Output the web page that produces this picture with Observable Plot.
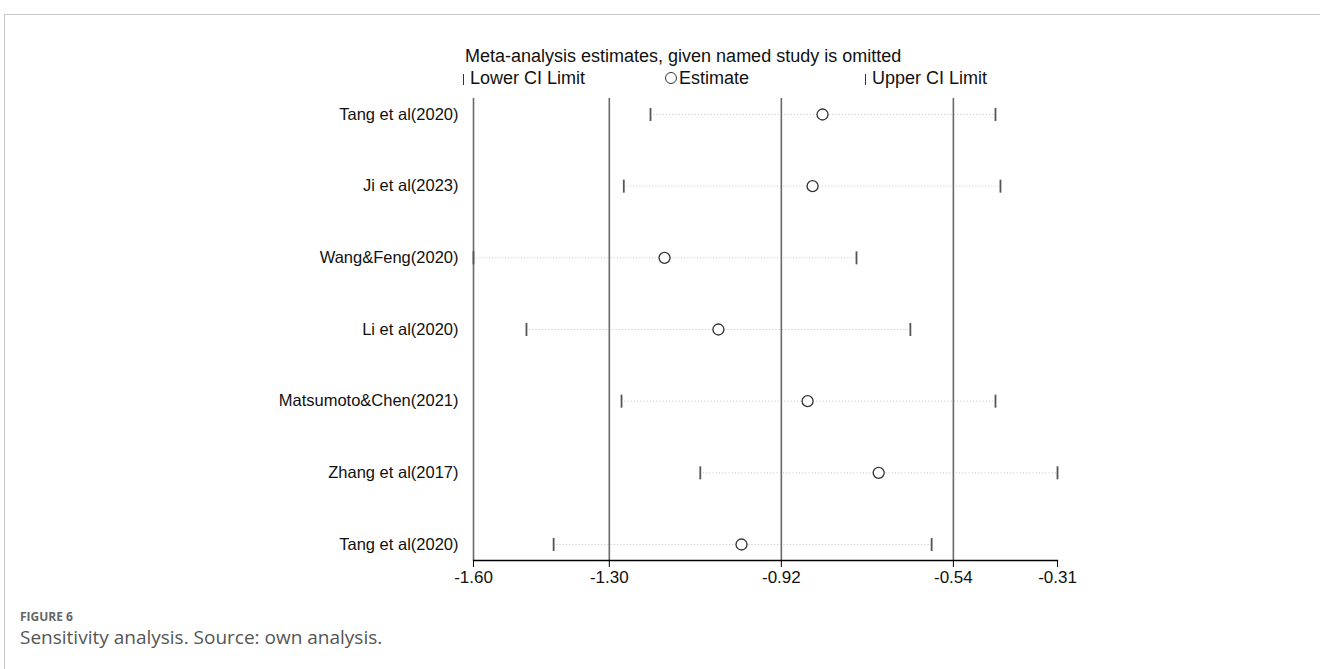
<!DOCTYPE html>
<html>
<head>
<meta charset="utf-8">
<script src="https://cdn.jsdelivr.net/npm/d3@7"></script>
<script src="https://cdn.jsdelivr.net/npm/@observablehq/plot@0.6"></script>
<style>
  html, body { margin: 0; padding: 0; background: #fff; overflow: hidden; width: 1320px; height: 669px; }
  #card { position: absolute; left: 4px; top: 14px; width: 1330px; height: 700px; border-top: 1px solid #c8c8c8; border-left: 1px solid #c8c8c8; }
  #chart { position: absolute; left: 0; top: 0; }
  .lg { position: absolute; font-family: "Liberation Sans", Arial, sans-serif; color: #111; white-space: nowrap; font-size: 18px; line-height: 20px; }
  #title { left: 465px; top: 46px; }
  #lg1 { left: 463px; top: 68px; }
  #lg2 { left: 665px; top: 68px; }
  #lg3 { left: 865px; top: 68px; }
  .bar { display: inline-block; width: 1px; height: 11px; background: #333; margin-right: 6px; position: relative; top: 1px; }
  .circ { display: inline-block; width: 10px; height: 10px; border: 1px solid #333; border-radius: 50%; margin-right: 2px; position: relative; top: 0px; }
  #fig { position: absolute; left: 20px; top: 609px; font-family: "Open Sans", sans-serif; font-weight: 700; font-size: 12px; line-height: 16px; color: #666; }
  #cap { position: absolute; left: 20px; top: 626px; font-family: "Open Sans", sans-serif; font-size: 19px; line-height: 23px; color: #555; }
</style>
</head>
<body>
<div id="card"></div>
<div id="chart"></div>
<div class="lg" id="title">Meta-analysis estimates, given named study is omitted</div>
<div class="lg" id="lg1"><span class="bar"></span>Lower CI Limit</div>
<div class="lg" id="lg2"><span class="circ"></span>Estimate</div>
<div class="lg" id="lg3"><span class="bar"></span>Upper CI Limit</div>
<div id="fig">FIGURE 6</div>
<div id="cap">Sensitivity analysis. Source: own analysis.</div>
<script>
const studies = ["Tang et al(2020)", "Ji et al(2023)", "Wang&Feng(2020)", "Li et al(2020)", "Matsumoto&Chen(2021)", "Zhang et al(2017)", "Tang et al(2020)"];
const lower = [-1.209, -1.268, -1.600, -1.483, -1.273, -1.099, -1.423];
const estimate = [-0.829, -0.851, -1.178, -1.059, -0.862, -0.705, -1.008];
const upper = [-0.447, -0.436, -0.754, -0.635, -0.447, -0.310, -0.588];
const xTicks = [-1.60, -1.30, -0.92, -0.54, -0.31];
const refLines = [-1.60, -1.30, -0.92, -0.54];

const idx = d3.range(studies.length);
const vbar = {
  draw(context, size) {
    const r = Math.sqrt(size / Math.PI);
    context.moveTo(0, -r);
    context.lineTo(0, r);
  }
};

const chart = Plot.plot({
  width: 1320,
  height: 600,
  marginLeft: 473,
  marginRight: 263,
  marginTop: 98,
  marginBottom: 40,
  style: { fontFamily: "'Liberation Sans', Arial, sans-serif", color: "#111", background: "transparent" },
  x: { domain: [-1.60, -0.31], axis: null },
  y: { domain: [0, studies.length - 1], reverse: true, insetTop: 16, insetBottom: 16, axis: null },
  marks: [
    Plot.ruleY(idx, { y: i => i, x1: i => lower[i], x2: i => upper[i], stroke: "#c4c4c4", strokeWidth: 1, strokeDasharray: "1 2.2" }),
    Plot.ruleX(refLines, { stroke: "#6a6a6a", strokeWidth: 1.6 }),
    Plot.frame({ anchor: "bottom", stroke: "#000", strokeWidth: 1.3 }),
    Plot.axisX(xTicks, { tickFormat: d => d.toFixed(2), tickSize: 7, tickPadding: 3, fontSize: 17, label: null, stroke: "#000" }),
    Plot.axisY(idx, { tickFormat: i => studies[i], tickSize: 0, tickPadding: 15, fontSize: 16.5, label: null }),
    Plot.dot(idx, { x: i => lower[i], y: i => i, symbol: vbar, r: 6.5, stroke: "#555", strokeWidth: 1.8 }),
    Plot.dot(idx, { x: i => upper[i], y: i => i, symbol: vbar, r: 6.5, stroke: "#555", strokeWidth: 1.8 }),
    Plot.dot(idx, { x: i => estimate[i], y: i => i, r: 5.5, stroke: "#333", strokeWidth: 1.3, fill: "white" })
  ]
});
document.getElementById("chart").appendChild(chart);
</script>
</body>
</html>
